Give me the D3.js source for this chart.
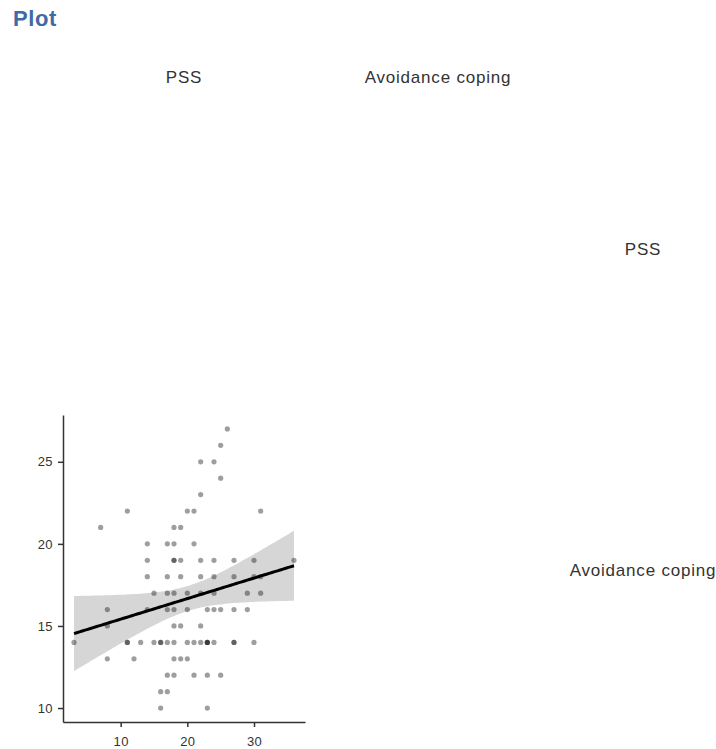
<!DOCTYPE html>
<html>
<head>
<meta charset="utf-8">
<script src="https://cdn.jsdelivr.net/npm/d3@7"></script>
<style>
  body { margin: 0; background: #fff; }
  svg { display: block; font-family: "Liberation Sans", Arial, sans-serif; }
</style>
</head>
<body>
<div id="chart"></div>
<script>
// Variable names
const variables = ["PSS", "Avoidance coping"];
// Scatter data: x = Avoidance coping, y = PSS (grouped by PSS value)
const avoidance = [
  26,
  25,
  22, 24,
  25,
  22,
  11, 20, 21, 31,
  7, 18, 19,
  14, 17, 18, 21,
  14, 18, 18, 19, 22, 24, 27, 30, 36,
  14, 17, 19, 22, 24, 27, 30, 31,
  15, 17, 18, 20, 22, 24, 29, 31,
  8, 14, 17, 18, 20, 23, 24, 25, 27, 29,
  8, 18, 19, 22,
  3, 11, 11, 13, 15, 16, 16, 17, 18, 20, 21, 22, 23, 23, 23, 24, 27, 27, 30,
  8, 12, 18, 19, 20,
  17, 18, 21, 23, 25,
  16, 17,
  16, 23
];
const pss = [
  27,
  26,
  25, 25,
  24,
  23,
  22, 22, 22, 22,
  21, 21, 21,
  20, 20, 20, 20,
  19, 19, 19, 19, 19, 19, 19, 19, 19,
  18, 18, 18, 18, 18, 18, 18, 18,
  17, 17, 17, 17, 17, 17, 17, 17,
  16, 16, 16, 16, 16, 16, 16, 16, 16, 16,
  15, 15, 15, 15,
  14, 14, 14, 14, 14, 14, 14, 14, 14, 14, 14, 14, 14, 14, 14, 14, 14, 14, 14,
  13, 13, 13, 13, 13,
  12, 12, 12, 12, 12,
  11, 11,
  10, 10
];
const xTicks = [10, 20, 30];
const yTicks = [10, 15, 20, 25];

const W = 716, H = 749;
const svg = d3.select("#chart").append("svg").attr("width", W).attr("height", H);

// Title
svg.append("text").attr("x", 13).attr("y", 26)
  .attr("font-size", 22).attr("font-weight", "bold").attr("fill", "#3e6aa5")
  .attr("letter-spacing", 0.6)
  .text("Plot");

// Column labels
const colLabelX = [184, 438];
variables.forEach((v, i) => {
  svg.append("text").attr("x", colLabelX[i]).attr("y", 83)
    .attr("text-anchor", "middle").attr("font-size", 17).attr("fill", "#333")
    .attr("letter-spacing", 0.8)
    .text(v);
});
// Row labels
const rowLabelY = [255, 576];
variables.forEach((v, i) => {
  svg.append("text").attr("x", 643).attr("y", rowLabelY[i])
    .attr("text-anchor", "middle").attr("font-size", 17).attr("fill", "#333")
    .attr("letter-spacing", 0.8)
    .text(v);
});

// Panel scales (ggplot-like 5% expansion)
const xExt = d3.extent(avoidance), yExt = d3.extent(pss);
const xPad = (xExt[1] - xExt[0]) * 0.05, yPad = (yExt[1] - yExt[0]) * 0.05;
const x = d3.scaleLinear().domain([xExt[0] - xPad, xExt[1] + xPad]).range([63, 305]);
const y = d3.scaleLinear().domain([yExt[0] - yPad, yExt[1] + yPad]).range([722, 415]);

// Linear regression + 95% CI
const n = avoidance.length;
const mx = d3.mean(avoidance), my = d3.mean(pss);
let sxx = 0, sxy = 0;
for (let i = 0; i < n; i++) { sxx += (avoidance[i]-mx)**2; sxy += (avoidance[i]-mx)*(pss[i]-my); }
const b = sxy / sxx, a = my - b * mx;
let sse = 0;
for (let i = 0; i < n; i++) sse += (pss[i] - (a + b*avoidance[i]))**2;
const s = Math.sqrt(sse / (n - 2));
const tq = 1.987;
const grid = d3.range(0, 81).map(k => xExt[0] + (xExt[1]-xExt[0]) * k / 80);
const band = grid.map(xv => {
  const fit = a + b * xv;
  const se = s * Math.sqrt(1/n + (xv - mx)**2 / sxx);
  return {x: xv, fit, lo: fit - tq*se, hi: fit + tq*se};
});

const g = svg.append("g");
g.append("path").datum(band)
  .attr("d", d3.area().x(d => x(d.x)).y0(d => y(d.lo)).y1(d => y(d.hi)))
  .attr("fill", "#999").attr("fill-opacity", 0.4);

// Points
g.selectAll("circle").data(d3.range(n)).join("circle")
  .attr("cx", i => x(avoidance[i])).attr("cy", i => y(pss[i]))
  .attr("r", 2.6).attr("fill", "#000").attr("fill-opacity", 0.38);

// Fit line
g.append("path").datum(band)
  .attr("d", d3.line().x(d => x(d.x)).y(d => y(d.fit)))
  .attr("fill", "none").attr("stroke", "#000").attr("stroke-width", 3);

// Axes
const xAxis = svg.append("g").attr("transform", "translate(0,722)")
  .call(d3.axisBottom(x).tickValues(xTicks).tickSize(5).tickSizeOuter(0));
const yAxis = svg.append("g").attr("transform", "translate(63,0)")
  .call(d3.axisLeft(y).tickValues(yTicks).tickSize(5).tickSizeOuter(0));
[xAxis, yAxis].forEach(ax => {
  ax.select(".domain").attr("stroke", "#333").attr("stroke-width", 1.5);
  ax.selectAll(".tick line").attr("stroke", "#333").attr("stroke-width", 1.5);
  ax.selectAll(".tick text").attr("fill", "#333").attr("font-size", 13)
    .attr("letter-spacing", 0.4)
    .attr("font-family", "Liberation Sans, Arial, sans-serif");
});
xAxis.selectAll(".tick text").attr("y", 12).attr("dy", "0.95em");
yAxis.selectAll(".tick text").attr("x", -10);
</script>
</body>
</html>
